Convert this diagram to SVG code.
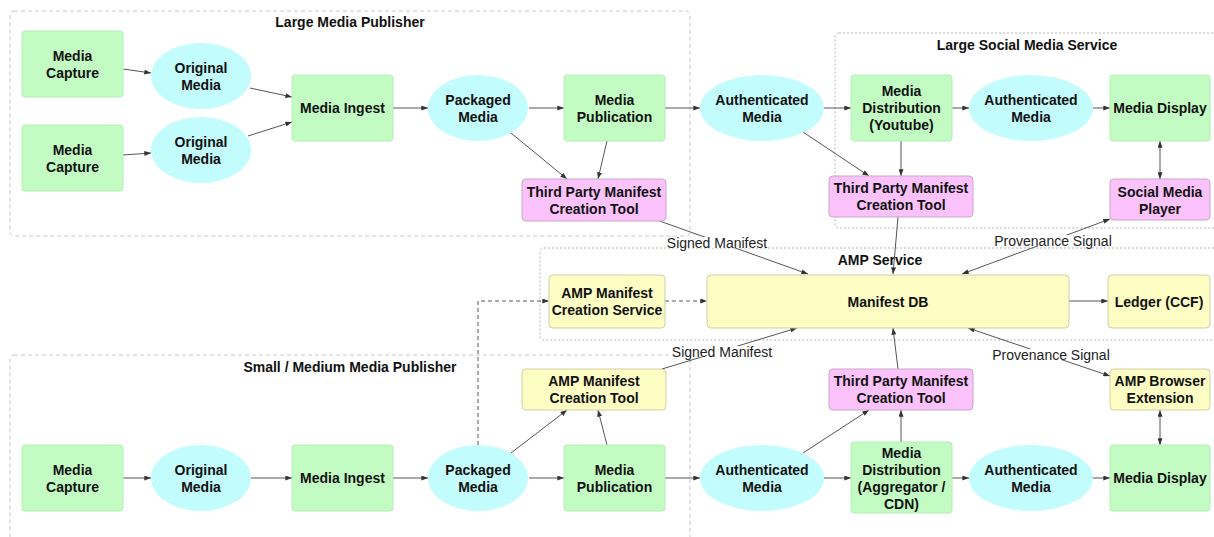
<svg xmlns="http://www.w3.org/2000/svg" width="1214" height="537" viewBox="0 0 1214 537">
  <style>
    .bg { fill: #ffffff; }
    .zone-dash { fill: none; stroke: #c6c6c6; stroke-width: 1; stroke-dasharray: 4 3; }
    .zone-dot { fill: none; stroke: #b4b4b4; stroke-width: 1; stroke-dasharray: 2 2; }
    .zone-title { font-family: "Liberation Sans", Arial, sans-serif; font-size: 14px; font-weight: bold; fill: #111; text-anchor: middle; }
    .proc { fill: #c2fcc2; stroke: #b6eeb6; stroke-width: 1; }
    .data { fill: #c2fcfd; stroke: none; }
    .third { fill: #fcc2fc; stroke: #c7a6c7; stroke-width: 1; }
    .amp { fill: #fdfdc4; stroke: #cfcfa6; stroke-width: 1; }
    .lbl { font-family: "Liberation Sans", Arial, sans-serif; font-size: 14px; font-weight: bold; fill: #111; text-anchor: middle; }
    .edge { fill: none; stroke: #555; stroke-width: 1; }
    .edge-dash { fill: none; stroke: #555; stroke-width: 1; stroke-dasharray: 4 3; }
    .edge-lbl { font-family: "Liberation Sans", Arial, sans-serif; font-size: 14px; fill: #222; text-anchor: middle; }
  </style>
  <defs>
    <marker id="arrow" viewBox="0 0 8 6" refX="8" refY="3" markerWidth="7" markerHeight="5" markerUnits="userSpaceOnUse" orient="auto-start-reverse">
      <path d="M0,0 L8,3 L0,6 z" fill="#333"/>
    </marker>
  </defs>

  <rect class="bg" x="0" y="0" width="1214" height="537"/>

  <!-- Zones -->
  <g id="zones">
    <rect class="zone-dash" x="10" y="11" width="680" height="225" rx="4"/>
    <text class="zone-title" x="350" y="27">Large Media Publisher</text>
    <rect class="zone-dot" x="835" y="33" width="400" height="195" rx="4"/>
    <text class="zone-title" x="1027" y="50">Large Social Media Service</text>
    <rect class="zone-dot" x="540" y="248" width="700" height="92" rx="4"/>
    <text class="zone-title" x="880" y="265">AMP Service</text>
    <rect class="zone-dash" x="10" y="355" width="680" height="200" rx="4"/>
    <text class="zone-title" x="350" y="372">Small / Medium Media Publisher</text>
  </g>

  <!-- Connectors -->
  <g id="connectors">
    <!-- large publisher -->
    <line class="edge" x1="123" y1="69" x2="151" y2="73" marker-end="url(#arrow)"/>
    <line class="edge" x1="123" y1="155" x2="151" y2="153" marker-end="url(#arrow)"/>
    <line class="edge" x1="250" y1="88" x2="292" y2="97" marker-end="url(#arrow)"/>
    <line class="edge" x1="248" y1="136" x2="292" y2="122" marker-end="url(#arrow)"/>
    <line class="edge" x1="393" y1="108" x2="428" y2="108" marker-end="url(#arrow)"/>
    <line class="edge" x1="529" y1="108" x2="564" y2="108" marker-end="url(#arrow)"/>
    <line class="edge" x1="511" y1="133" x2="567" y2="179" marker-end="url(#arrow)"/>
    <line class="edge" x1="607" y1="141" x2="598" y2="179" marker-end="url(#arrow)"/>
    <line class="edge" x1="665" y1="108" x2="700" y2="108" marker-end="url(#arrow)"/>
    <!-- large social media service -->
    <line class="edge" x1="803" y1="132" x2="869" y2="176" marker-end="url(#arrow)"/>
    <line class="edge" x1="824" y1="108" x2="851" y2="108" marker-end="url(#arrow)"/>
    <line class="edge" x1="901" y1="141" x2="901" y2="176" marker-end="url(#arrow)"/>
    <line class="edge" x1="952" y1="108" x2="969" y2="108" marker-end="url(#arrow)"/>
    <line class="edge" x1="1093" y1="108" x2="1110" y2="108" marker-end="url(#arrow)"/>
    <line class="edge" x1="1160" y1="141" x2="1160" y2="179" marker-start="url(#arrow)" marker-end="url(#arrow)"/>
    <!-- into the AMP service -->
    <line class="edge" x1="654" y1="219" x2="808" y2="274" marker-end="url(#arrow)"/>
    <line class="edge" x1="898" y1="217" x2="893" y2="274" marker-end="url(#arrow)"/>
    <line class="edge" x1="1110" y1="219" x2="962" y2="274" marker-start="url(#arrow)" marker-end="url(#arrow)"/>
    <line class="edge-dash" x1="665" y1="301" x2="707" y2="301" marker-end="url(#arrow)"/>
    <line class="edge" x1="1069" y1="301" x2="1108" y2="301" marker-end="url(#arrow)"/>
    <polyline class="edge-dash" points="478,445 478,301 549,301" marker-end="url(#arrow)"/>
    <line class="edge" x1="662" y1="369" x2="797" y2="328" marker-end="url(#arrow)"/>
    <line class="edge" x1="898" y1="369" x2="893" y2="328" marker-end="url(#arrow)"/>
    <line class="edge" x1="1110" y1="376" x2="968" y2="328" marker-start="url(#arrow)" marker-end="url(#arrow)"/>
    <!-- small / medium publisher -->
    <line class="edge" x1="123" y1="478" x2="151" y2="478" marker-end="url(#arrow)"/>
    <line class="edge" x1="251" y1="478" x2="292" y2="478" marker-end="url(#arrow)"/>
    <line class="edge" x1="393" y1="478" x2="428" y2="478" marker-end="url(#arrow)"/>
    <line class="edge" x1="529" y1="478" x2="564" y2="478" marker-end="url(#arrow)"/>
    <line class="edge" x1="511" y1="453" x2="567" y2="410" marker-end="url(#arrow)"/>
    <line class="edge" x1="607" y1="445" x2="598" y2="410" marker-end="url(#arrow)"/>
    <line class="edge" x1="665" y1="478" x2="700" y2="478" marker-end="url(#arrow)"/>
    <line class="edge" x1="803" y1="453" x2="869" y2="410" marker-end="url(#arrow)"/>
    <line class="edge" x1="824" y1="478" x2="851" y2="478" marker-end="url(#arrow)"/>
    <line class="edge" x1="901" y1="442" x2="901" y2="410" marker-end="url(#arrow)"/>
    <line class="edge" x1="952" y1="478" x2="969" y2="478" marker-end="url(#arrow)"/>
    <line class="edge" x1="1093" y1="478" x2="1110" y2="478" marker-end="url(#arrow)"/>
    <line class="edge" x1="1160" y1="445" x2="1160" y2="410" marker-start="url(#arrow)" marker-end="url(#arrow)"/>
    <!-- edge labels -->
    <rect x="666" y="237" width="102" height="11" fill="#fff"/>
    <text class="edge-lbl" x="717" y="248">Signed Manifest</text>
    <rect x="994" y="235" width="118" height="11" fill="#fff"/>
    <text class="edge-lbl" x="1053" y="246">Provenance Signal</text>
    <rect x="671" y="346" width="102" height="11" fill="#fff"/>
    <text class="edge-lbl" x="722" y="357">Signed Manifest</text>
    <rect x="992" y="349" width="118" height="11" fill="#fff"/>
    <text class="edge-lbl" x="1051" y="360">Provenance Signal</text>
  </g>

  <!-- Large Media Publisher nodes -->
  <g id="lmp-capture-1">
    <rect class="proc" x="22" y="31" width="101" height="66" rx="3"/>
    <text class="lbl" x="72.5" y="61">Media<tspan x="72.5" dy="17">Capture</tspan></text>
  </g>
  <g id="lmp-capture-2">
    <rect class="proc" x="22" y="125" width="101" height="66" rx="3"/>
    <text class="lbl" x="72.5" y="155">Media<tspan x="72.5" dy="17">Capture</tspan></text>
  </g>
  <g id="lmp-original-1">
    <ellipse class="data" cx="201" cy="76" rx="50" ry="33"/>
    <text class="lbl" x="201" y="72.5">Original<tspan x="201" dy="17">Media</tspan></text>
  </g>
  <g id="lmp-original-2">
    <ellipse class="data" cx="201" cy="150" rx="50" ry="33"/>
    <text class="lbl" x="201" y="146.5">Original<tspan x="201" dy="17">Media</tspan></text>
  </g>
  <g id="lmp-ingest">
    <rect class="proc" x="292" y="75" width="101" height="66" rx="3"/>
    <text class="lbl" x="342.5" y="113">Media Ingest</text>
  </g>
  <g id="lmp-packaged">
    <ellipse class="data" cx="478" cy="108" rx="50" ry="33"/>
    <text class="lbl" x="478" y="104.5">Packaged<tspan x="478" dy="17">Media</tspan></text>
  </g>
  <g id="lmp-publication">
    <rect class="proc" x="564" y="75" width="101" height="66" rx="3"/>
    <text class="lbl" x="614.5" y="104.5">Media<tspan x="614.5" dy="17">Publication</tspan></text>
  </g>
  <g id="lmp-third-party-tool">
    <rect class="third" x="522" y="179" width="144" height="42" rx="4"/>
    <text class="lbl" x="594" y="196.5">Third Party Manifest<tspan x="594" dy="17">Creation Tool</tspan></text>
  </g>
  <g id="top-authenticated">
    <ellipse class="data" cx="762" cy="108" rx="62" ry="33"/>
    <text class="lbl" x="762" y="104.5">Authenticated<tspan x="762" dy="17">Media</tspan></text>
  </g>

  <!-- Large Social Media Service nodes -->
  <g id="lsms-distribution">
    <rect class="proc" x="851" y="75" width="101" height="66" rx="3"/>
    <text class="lbl" x="901.5" y="96">Media<tspan x="901.5" dy="17">Distribution</tspan><tspan x="901.5" dy="17">(Youtube)</tspan></text>
  </g>
  <g id="lsms-authenticated">
    <ellipse class="data" cx="1031" cy="108" rx="62" ry="33"/>
    <text class="lbl" x="1031" y="104.5">Authenticated<tspan x="1031" dy="17">Media</tspan></text>
  </g>
  <g id="lsms-display">
    <rect class="proc" x="1110" y="75" width="100" height="66" rx="3"/>
    <text class="lbl" x="1160" y="113">Media Display</text>
  </g>
  <g id="lsms-third-party-tool">
    <rect class="third" x="829" y="176" width="144" height="41" rx="4"/>
    <text class="lbl" x="901" y="193">Third Party Manifest<tspan x="901" dy="17">Creation Tool</tspan></text>
  </g>
  <g id="lsms-player">
    <rect class="third" x="1110" y="179" width="100" height="41" rx="4"/>
    <text class="lbl" x="1160" y="196.5">Social Media<tspan x="1160" dy="17">Player</tspan></text>
  </g>

  <!-- AMP Service nodes -->
  <g id="amp-creation-service">
    <rect class="amp" x="549" y="275" width="116" height="53" rx="4"/>
    <text class="lbl" x="607" y="298">AMP Manifest<tspan x="607" dy="17">Creation Service</tspan></text>
  </g>
  <g id="amp-manifest-db">
    <rect class="amp" x="707" y="275" width="362" height="53" rx="4"/>
    <text class="lbl" x="888" y="306.5">Manifest DB</text>
  </g>
  <g id="amp-ledger">
    <rect class="amp" x="1108" y="275" width="102" height="53" rx="4"/>
    <text class="lbl" x="1159" y="306.5">Ledger (CCF)</text>
  </g>

  <!-- Small / Medium Media Publisher nodes -->
  <g id="smp-capture">
    <rect class="proc" x="22" y="445" width="101" height="66" rx="3"/>
    <text class="lbl" x="72.5" y="474.5">Media<tspan x="72.5" dy="17">Capture</tspan></text>
  </g>
  <g id="smp-original">
    <ellipse class="data" cx="201" cy="478" rx="50" ry="33"/>
    <text class="lbl" x="201" y="474.5">Original<tspan x="201" dy="17">Media</tspan></text>
  </g>
  <g id="smp-ingest">
    <rect class="proc" x="292" y="445" width="101" height="66" rx="3"/>
    <text class="lbl" x="342.5" y="483">Media Ingest</text>
  </g>
  <g id="smp-packaged">
    <ellipse class="data" cx="478" cy="478" rx="50" ry="33"/>
    <text class="lbl" x="478" y="474.5">Packaged<tspan x="478" dy="17">Media</tspan></text>
  </g>
  <g id="smp-publication">
    <rect class="proc" x="564" y="445" width="101" height="66" rx="3"/>
    <text class="lbl" x="614.5" y="474.5">Media<tspan x="614.5" dy="17">Publication</tspan></text>
  </g>
  <g id="smp-amp-tool">
    <rect class="amp" x="522" y="369" width="144" height="41" rx="4"/>
    <text class="lbl" x="594" y="386">AMP Manifest<tspan x="594" dy="17">Creation Tool</tspan></text>
  </g>
  <g id="bottom-authenticated">
    <ellipse class="data" cx="762" cy="478" rx="62" ry="33"/>
    <text class="lbl" x="762" y="474.5">Authenticated<tspan x="762" dy="17">Media</tspan></text>
  </g>
  <g id="agg-third-party-tool">
    <rect class="third" x="829" y="369" width="144" height="41" rx="4"/>
    <text class="lbl" x="901" y="386">Third Party Manifest<tspan x="901" dy="17">Creation Tool</tspan></text>
  </g>
  <g id="agg-distribution">
    <rect class="proc" x="851" y="442" width="101" height="71" rx="3"/>
    <text class="lbl" x="901.5" y="458">Media<tspan x="901.5" dy="17">Distribution</tspan><tspan x="901.5" dy="17">(Aggregator /</tspan><tspan x="901.5" dy="17">CDN)</tspan></text>
  </g>
  <g id="agg-authenticated">
    <ellipse class="data" cx="1031" cy="478" rx="62" ry="33"/>
    <text class="lbl" x="1031" y="474.5">Authenticated<tspan x="1031" dy="17">Media</tspan></text>
  </g>
  <g id="agg-display">
    <rect class="proc" x="1110" y="445" width="100" height="66" rx="3"/>
    <text class="lbl" x="1160" y="483">Media Display</text>
  </g>
  <g id="agg-browser-extension">
    <rect class="amp" x="1110" y="369" width="100" height="41" rx="4"/>
    <text class="lbl" x="1160" y="386">AMP Browser<tspan x="1160" dy="17">Extension</tspan></text>
  </g>
</svg>
